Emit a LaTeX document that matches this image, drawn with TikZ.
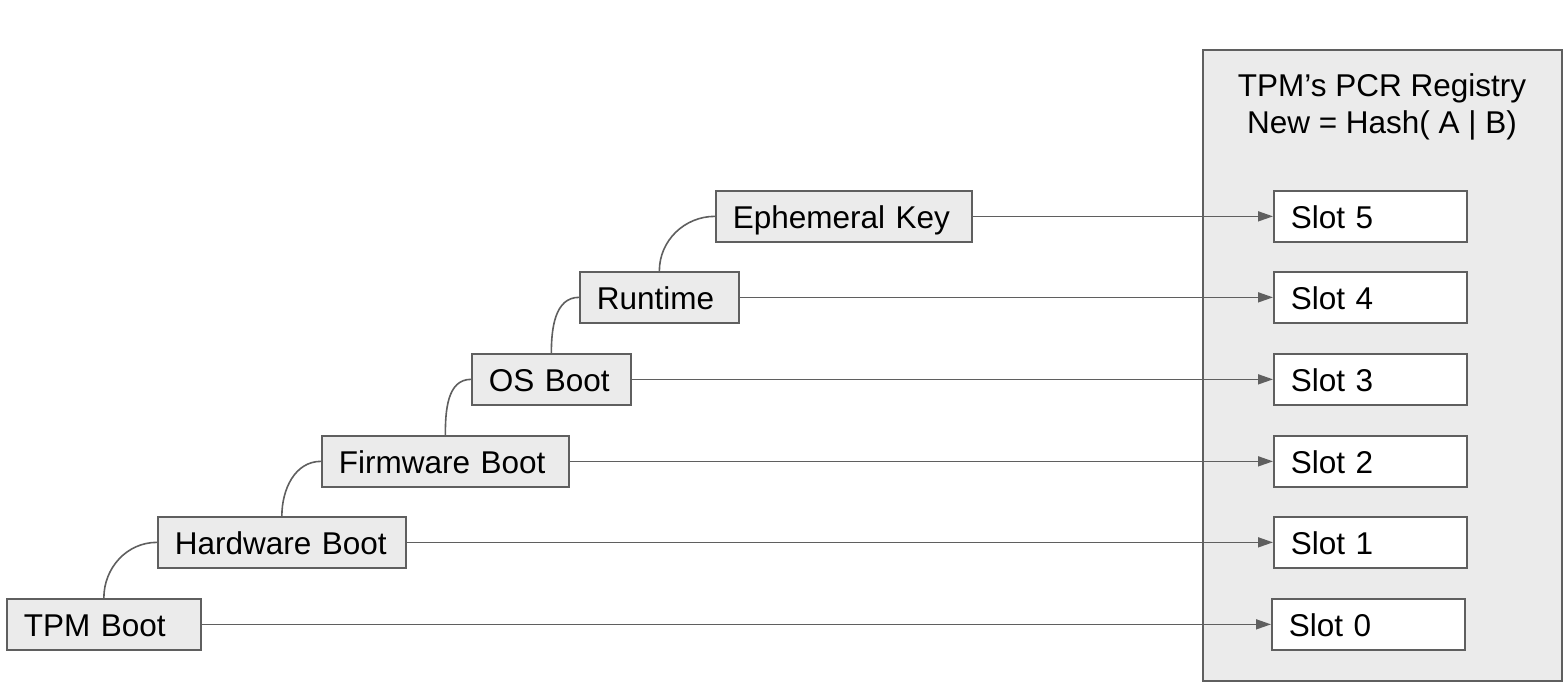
\documentclass[tikz,border=0pt]{standalone}
\usepackage{fontspec}
\setmainfont{Liberation Sans}
\usetikzlibrary{arrows.meta}
\definecolor{linec}{HTML}{5F5F5F}
\definecolor{boxfill}{HTML}{EBEBEB}
\begin{document}
\begin{tikzpicture}[x=1pt,y=-1pt,
  txt/.style={font=\fontsize{31.5}{37}\selectfont, text=black},
  stage/.style={txt, draw=linec, fill=boxfill, line width=1.7pt, inner xsep=17pt, inner ysep=0pt,
    minimum height=51pt, text height=27pt, text depth=2pt, align=left, anchor=north west},
  slot/.style={txt, draw=linec, fill=white, line width=1.7pt, inner xsep=17pt, inner ysep=0pt,
    minimum height=51pt, text height=27pt, text depth=2pt, text width=159pt, align=left, anchor=north west},
  conn/.style={draw=linec, line width=1.6pt},
  arr/.style={conn, -{Triangle[length=15pt,width=10pt]}}]
\useasboundingbox (0,0) rectangle (1568,688);
% registry
\node[draw=linec, fill=boxfill, line width=1.7pt, minimum width=359pt, minimum height=631pt, inner sep=0pt, anchor=north west] (reg) at (1202,49) {};
\node[txt, align=center, inner sep=0pt] (regtitle) at (1382,107) {TPM’s PCR Registry\\New = Hash( A | B)};
% slots
\node[slot] (s5) at (1273,190) {Slot 5};
\node[slot] (s4) at (1273,271) {Slot 4};
\node[slot] (s3) at (1273,353) {Slot 3};
\node[slot] (s2) at (1273,435) {Slot 2};
\node[slot] (s1) at (1273,516) {Slot 1};
\node[slot] (s0) at (1271,598) {Slot 0};
% stages
\node[stage, text width=160pt] (tpm) at (6,598) {TPM Boot};
\node[stage, text width=214pt] (hw) at (157,516) {Hardware Boot};
\node[stage, text width=213pt] (fw) at (321,435) {Firmware Boot};
\node[stage, text width=125pt] (os) at (471,353) {OS Boot};
\node[stage, text width=125pt] (rt) at (579,271) {Runtime};
\node[stage, text width=222pt] (ek) at (715,190) {Ephemeral Key};
% chain connectors
\draw[conn] (tpm.north) to[out=90,in=180] (hw.west);
\draw[conn] (hw.north) to[out=90,in=180] (fw.west);
\draw[conn] (fw.north) to[out=90,in=180] (os.west);
\draw[conn] (os.north) to[out=90,in=180] (rt.west);
\draw[conn] (rt.north) to[out=90,in=180] (ek.west);
% arrows to slots
\draw[arr] (tpm.east) -- (s0.west);
\draw[arr] (hw.east) -- (s1.west);
\draw[arr] (fw.east) -- (s2.west);
\draw[arr] (os.east) -- (s3.west);
\draw[arr] (rt.east) -- (s4.west);
\draw[arr] (ek.east) -- (s5.west);
\end{tikzpicture}
\end{document}
